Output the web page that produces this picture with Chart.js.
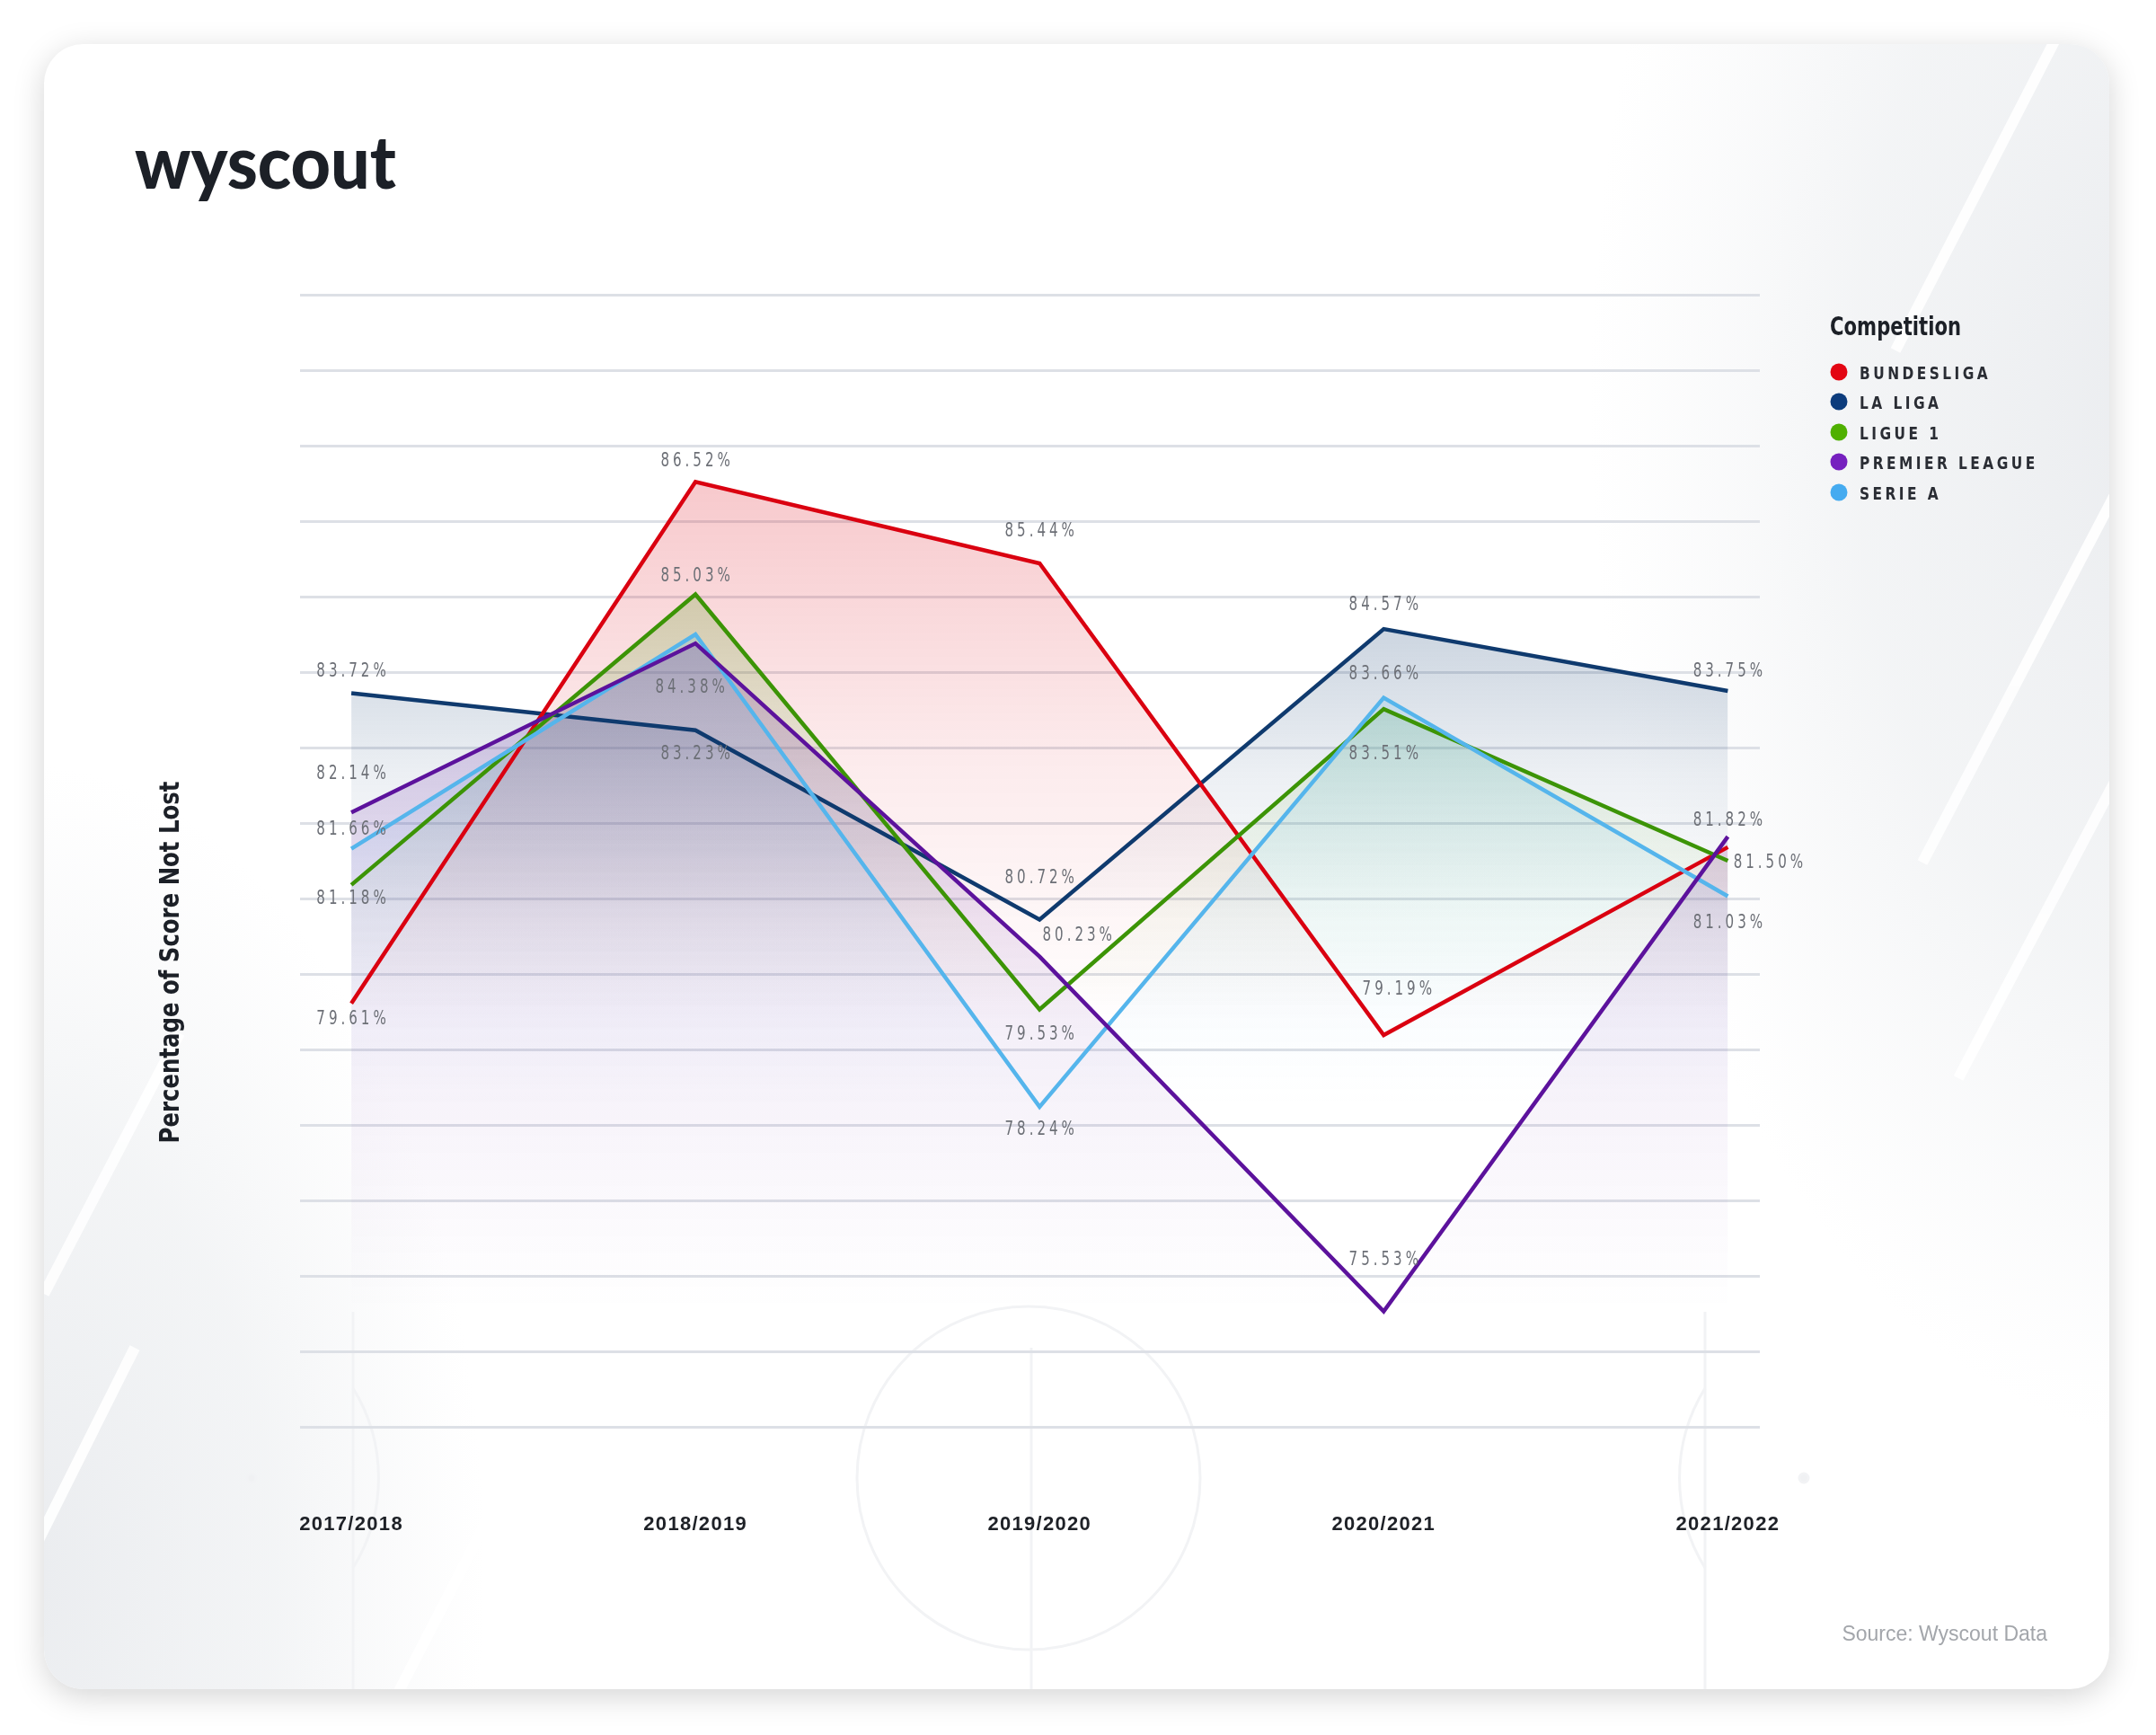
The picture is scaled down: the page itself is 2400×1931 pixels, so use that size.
<!DOCTYPE html>
<html>
<head>
<meta charset="utf-8">
<script src="https://cdn.jsdelivr.net/npm/chart.js@4.4.1/dist/chart.umd.min.js"></script>
<style>
  html, body { margin:0; padding:0; background:#ffffff; width:2400px; height:1931px; overflow:hidden; }
  #card { position:absolute; left:49px; top:49px; width:2299px; height:1831px; border-radius:44px;
          background:#ffffff; box-shadow:0 8px 34px rgba(0,0,0,0.17); }
  svg, canvas { position:absolute; left:0; top:0; }
</style>
</head>
<body>
<div id="card"></div>
<svg id="deco" width="2400" height="1931" viewBox="0 0 2400 1931">
  <defs>
    <clipPath id="cardClip"><rect x="49" y="49" width="2299" height="1831" rx="44" ry="44"/></clipPath>
    <radialGradient id="gRight" cx="0.5" cy="0.5" r="0.5">
      <stop offset="0" stop-color="#eaecef" stop-opacity="1"/>
      <stop offset="0.55" stop-color="#eef0f2" stop-opacity="0.7"/>
      <stop offset="1" stop-color="#f2f3f5" stop-opacity="0"/>
    </radialGradient>
    <radialGradient id="gLeft" cx="0.5" cy="0.5" r="0.5">
      <stop offset="0" stop-color="#eaecef" stop-opacity="1"/>
      <stop offset="0.55" stop-color="#eef0f2" stop-opacity="0.7"/>
      <stop offset="1" stop-color="#f2f3f5" stop-opacity="0"/>
    </radialGradient>
  </defs>
  <g clip-path="url(#cardClip)">
    <ellipse cx="2420" cy="450" rx="650" ry="1150" fill="url(#gRight)"/>
    <ellipse cx="20" cy="1750" rx="520" ry="900" fill="url(#gLeft)"/>
    <g stroke="#ffffff" stroke-width="12" fill="none" opacity="0.9">
      <line x1="2110" y1="390" x2="2290" y2="40"/>
      <line x1="2140" y1="960" x2="2370" y2="520"/>
      <line x1="2180" y1="1200" x2="2370" y2="840"/>
      <line x1="49" y1="1440" x2="200" y2="1150"/>
      <line x1="440" y1="1890" x2="600" y2="1580"/>
      <line x1="40" y1="1720" x2="150" y2="1500"/>
    </g>
    <g stroke="#f2f3f5" stroke-width="3" fill="none">
      <circle cx="1145" cy="1645" r="191"/>
      <line x1="1148" y1="1500" x2="1148" y2="1880"/>
      <line x1="393" y1="1460" x2="393" y2="1880"/>
      <line x1="1898" y1="1460" x2="1898" y2="1880"/>
      <path d="M 393 1545 A 190 190 0 0 1 393 1745"/>
      <path d="M 1898 1545 A 190 190 0 0 0 1898 1745"/>
      <circle cx="280" cy="1645" r="5" fill="#f0f1f3"/>
      <circle cx="2008" cy="1645" r="5" fill="#f0f1f3"/>
    </g>
  </g>
</svg>
<canvas id="chart" width="2400" height="1931"></canvas>
<svg id="texts" width="2400" height="1931" viewBox="0 0 2400 1931">
  <text x="150" y="210" font-family="Lato, 'Open Sans', sans-serif" font-weight="900" font-size="82" fill="#1c2027" textLength="291" lengthAdjust="spacingAndGlyphs">wyscout</text>
  <text transform="translate(199,1071) rotate(-90)" text-anchor="middle" font-family="'DejaVu Sans', sans-serif" font-weight="bold" font-size="31" fill="#1c2027" textLength="403" lengthAdjust="spacingAndGlyphs">Percentage of Score Not Lost</text>
  <text x="2037" y="373" font-family="'DejaVu Sans', sans-serif" font-weight="bold" font-size="29" fill="#1c2027" textLength="146" lengthAdjust="spacingAndGlyphs">Competition</text>
  <g id="legend"></g>
  <text x="2279" y="1826" text-anchor="end" font-family="'Liberation Sans', Arial, sans-serif" font-size="23" fill="#a3a6ab">Source: Wyscout Data</text>
</svg>
<script>
// ---------- data ----------
const categories = ['2017/2018', '2018/2019', '2019/2020', '2020/2021', '2021/2022'];
const competitions = ['BUNDESLIGA', 'LA LIGA', 'LIGUE 1', 'PREMIER LEAGUE', 'SERIE A'];
const bundesliga    = [79.61, 86.52, 85.44, 79.19, 81.68];
const laLiga        = [83.72, 83.23, 80.72, 84.57, 83.75];
const ligue1        = [81.18, 85.03, 79.53, 83.51, 81.50];
const premierLeague = [82.14, 84.38, 80.23, 75.53, 81.82];
const serieA        = [81.66, 84.50, 78.24, 83.66, 81.03];
const yMin = 74;
const yMax = 89;

const seriesValues = [bundesliga, laLiga, ligue1, premierLeague, serieA];

// ---------- styles ----------
const lineColors = ['#da0010', '#0f3a6e', '#3c9406', '#5c129c', '#55b5ec'];
const lineRGB    = [[218,0,16], [15,58,110], [63,154,8], [92,18,156], [85,181,236]];
const dotColors  = ['#e30613', '#0c3c7c', '#4fb000', '#7620bf', '#45abf0'];
const drawOrder  = [3, 4, 2, 0, 1];
// value-label placement [dx, dy] relative to each point (null = label hidden)
const labelPlacement = [
  [[0, 18], [0, -23], [0, -35], [15, -50], null],
  [[0, -24], [0, 27], [0, -46], [0, -27], [0, -21]],
  [[0, 16], [0, -20], [0, 28], [0, 50], [45, 3]],
  [[0, -43], [-6, 49], [42, -23], [0, -57], [0, -18]],
  [[0, -21], null, [0, 26], [0, -26], [0, 30]]
];

// ---------- legend ----------
(function buildLegend() {
  const g = document.getElementById('legend');
  const ns = 'http://www.w3.org/2000/svg';
  const rowY = [414, 447, 481, 514, 548];
  competitions.forEach((name, i) => {
    const c = document.createElementNS(ns, 'circle');
    c.setAttribute('cx', 2047); c.setAttribute('cy', rowY[i]); c.setAttribute('r', 9.5);
    c.setAttribute('fill', dotColors[i]);
    g.appendChild(c);
    const t = document.createElementNS(ns, 'text');
    t.setAttribute('transform', `translate(2070,${rowY[i] + 7.5}) scale(0.77,1)`);
    t.setAttribute('x', 0); t.setAttribute('y', 0);
    t.setAttribute('font-family', "'DejaVu Sans', sans-serif");
    t.setAttribute('font-size', '20');
    t.setAttribute('font-weight', 'bold');
    t.setAttribute('fill', '#2a2d34');
    t.setAttribute('letter-spacing', '4.5');
    t.textContent = name;
    g.appendChild(t);
  });
})();

// ---------- plugins ----------
function fillGradient(context, i) {
  const chart = context.chart;
  const area = chart.chartArea;
  if (!area) return 'rgba(0,0,0,0)';
  const ys = chart.scales.y;
  const vals = seriesValues[i];
  const top = ys.getPixelForValue(Math.max(...vals));
  const bottom = ys.getPixelForValue(Math.min(...vals));
  const [r, g, b] = lineRGB[i];
  const grad = chart.ctx.createLinearGradient(0, top, 0, bottom);
  grad.addColorStop(0, `rgba(${r},${g},${b},0.21)`);
  grad.addColorStop(0.5, `rgba(${r},${g},${b},0.08)`);
  grad.addColorStop(1, `rgba(${r},${g},${b},0)`);
  return grad;
}

const tickSpacing = {
  id: 'tickSpacing',
  beforeDraw(chart) { chart.ctx.letterSpacing = '1.3px'; }
};

const valueLabels = {
  id: 'valueLabels',
  afterDatasetsDraw(chart) {
    const c = chart.ctx;
    chart.data.datasets.forEach((ds, i) => {
      const meta = chart.getDatasetMeta(i);
      meta.data.forEach((pt, j) => {
        const p = labelPlacement[i][j];
        if (!p) return;
        c.save();
        c.font = '21px "DejaVu Sans", sans-serif';
        c.letterSpacing = '5.5px';
        c.fillStyle = '#6c6f76';
        c.textAlign = 'center';
        c.textBaseline = 'middle';
        c.translate(pt.x + p[0], pt.y + p[1]);
        c.scale(0.72, 1);
        c.fillText(seriesValues[i][j].toFixed(2) + '%', 2.75, 0);
        c.restore();
      });
    });
  }
};

// ---------- chart ----------
new Chart(document.getElementById('chart'), {
  type: 'line',
  data: {
    datasets: seriesValues.map((vals, i) => ({
      label: competitions[i],
      data: vals.map((v, j) => ({ x: j, y: v })),
      borderColor: lineColors[i],
      borderWidth: 4.5,
      pointRadius: 0,
      tension: 0,
      fill: 'start',
      backgroundColor: (ctx) => fillGradient(ctx, i),
      order: drawOrder[i]
    }))
  },
  options: {
    responsive: false,
    animation: false,
    devicePixelRatio: 1,
    layout: { padding: { left: 334, right: 441, top: 328, bottom: 193 } },
    plugins: {
      legend: { display: false },
      tooltip: { enabled: false },
      filler: { drawTime: 'beforeDatasetsDraw' }
    },
    scales: {
      x: {
        type: 'linear',
        min: -0.149,
        max: 4.093,
        grid: { display: false, drawTicks: false },
        border: { display: false },
        afterBuildTicks: (s) => { s.ticks = categories.map((_, i) => ({ value: i })); },
        afterFit: (s) => { s.height = 150; },
        ticks: {
          padding: 96,
          autoSkip: false,
          maxRotation: 0,
          color: '#1e2127',
          font: { family: '"Liberation Sans", Arial, sans-serif', size: 22, weight: 'bold' },
          callback: (v) => categories[v] !== undefined ? categories[v] : ''
        }
      },
      y: {
        min: yMin,
        max: yMax,
        ticks: { display: false, stepSize: 1 },
        grid: { color: '#dde0e6', lineWidth: 3, drawTicks: false },
        border: { display: false },
        afterFit: (s) => { s.width = 0; }
      }
    }
  },
  plugins: [tickSpacing, valueLabels]
});
</script>
</body>
</html>
